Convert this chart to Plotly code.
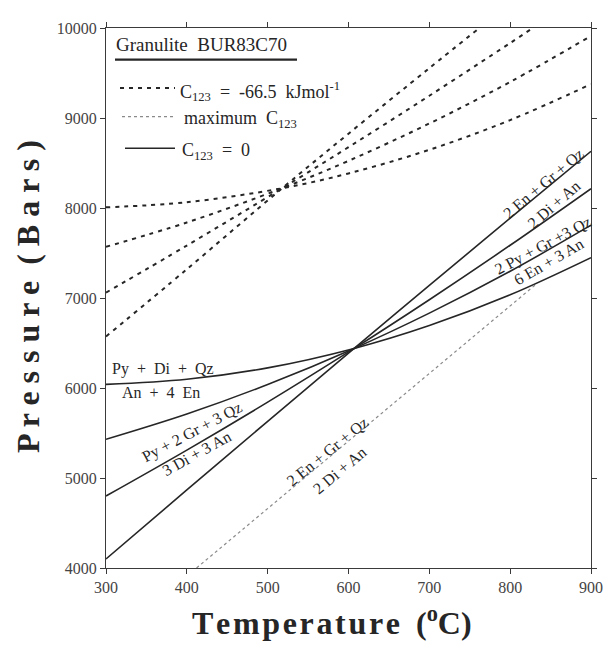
import plotly.graph_objects as go

# ---------------- data ----------------
# C123 = 0 reactions (solid), through the invariant point (~607 C, 6440 bar)
T_solid = [300, 400, 500, 607, 700, 800, 900]
P_rxn1 = [6040, 6097, 6224, 6440, 6694, 7035, 7448]   # Py + Di + Qz = An + 4 En
P_rxn2 = [4800, 5310, 5843, 6440, 6981, 7586, 8215]   # Py + 2 Gr + 3 Qz = 3 Di + 3 An
P_rxn3 = [4100, 4867, 5630, 6440, 7140, 7887, 8630]   # 2 En + Gr + Qz = 2 Di + An
P_rxn4 = [5430, 5711, 6039, 6440, 6832, 7297, 7809]   # 2 Py + Gr + 3 Qz = 6 En + 3 An

# C123 = -66.5 kJ/mol (dashed)
T_d1 = [300, 400, 518, 600, 700, 800, 900]
P_d1 = [8007, 8064, 8220, 8384, 8647, 8977, 9376]
T_d2 = [300, 400, 518, 600, 700, 800, 900]
P_d2 = [7569, 7839, 8220, 8524, 8939, 9401, 9912]
T_d3 = [300, 400, 518, 600, 700, 800, 828]
P_d3 = [7060, 7583, 8220, 8676, 9247, 9833, 10000]
T_d4 = [300, 400, 518, 600, 700, 762]
P_d4 = [6572, 7320, 8220, 8826, 9554, 10000]

# maximum C123 (dotted)
T_dot = [412, 500, 600, 700, 800, 833]
P_dot = [4000, 4660, 5410, 6160, 6910, 7160]

x_ticks = [300, 400, 500, 600, 700, 800, 900]
y_ticks = [4000, 5000, 6000, 7000, 8000, 9000, 10000]

# line labels: (text, T, P, angle)
line_labels = [
    ("Py  +  Di  +  Qz", 370, 6210, 0),
    ("An  +  4  En", 368, 5947, 0),
    ("Py + 2 Gr + 3 Qz", 407, 5509, -28),
    ("3 Di + 3 An", 412, 5268, -29),
    ("2 En + Gr + Qz", 841, 8269, -40),
    ("2 Di + An", 854, 8039, -41),
    ("2 Py + Gr +3 Qz", 840, 7580, -28),
    ("6 En + 3 An", 848, 7404, -30),
    ("2 En + Gr + Qz", 574, 5290, -39),
    ("2 Di + An", 589, 5082, -40),
]

legend_title = "Granulite  BUR83C70"
legend_texts = ["C<sub>123</sub>  =  -66.5  kJmol<sup>-1</sup>",
                "maximum  C<sub>123</sub>",
                "C<sub>123</sub>  =  0"]

FONT = "Liberation Serif, Times New Roman, serif"
INK = "#262626"

# ---------------- figure ----------------
fig = go.Figure()

for T, P in [(T_solid, P_rxn1), (T_solid, P_rxn2), (T_solid, P_rxn3), (T_solid, P_rxn4)]:
    fig.add_trace(go.Scatter(x=T, y=P, mode="lines", line=dict(color=INK, width=1.6, shape="spline"),
                             showlegend=False, hoverinfo="skip"))

for T, P in [(T_d1, P_d1), (T_d2, P_d2), (T_d3, P_d3), (T_d4, P_d4)]:
    fig.add_trace(go.Scatter(x=T, y=P, mode="lines",
                             line=dict(color=INK, width=2, dash="4px,5px", shape="spline"),
                             showlegend=False, hoverinfo="skip"))

fig.add_trace(go.Scatter(x=T_dot, y=P_dot, mode="lines",
                         line=dict(color="#8a8a8a", width=1.2, dash="dot"),
                         showlegend=False, hoverinfo="skip"))

for text, T, P, ang in line_labels:
    fig.add_annotation(x=T, y=P, xref="x", yref="y", text=text, showarrow=False,
                       textangle=ang, font=dict(family=FONT, size=16, color=INK))

# plot area in page pixels (page has an 8px body offset)
OFF = 8
L, TOP, W, H = 106, 20, 485, 548
def px(x):
    return (x - L) / W
def py(y):
    return (TOP + H - y) / H

# legend block
fig.add_annotation(x=px(114), y=py(37), xref="paper", yref="paper", text=legend_title,
                   showarrow=False, xanchor="left", yanchor="middle",
                   font=dict(family=FONT, size=19, color=INK))
fig.add_shape(type="line", xref="paper", yref="paper", x0=px(115), x1=px(297), y0=py(52), y1=py(52),
              line=dict(color=INK, width=2.2))
rows_y = [81, 110, 142]
styles = [dict(color=INK, width=2, dash="4px,5px"),
          dict(color="#8a8a8a", width=1.2, dash="dot"),
          dict(color=INK, width=1.6)]
starts = [120, 122, 125]
text_x = [178, 182, 180]
for yy, st, x0, tx, txt in zip(rows_y, styles, starts, text_x, legend_texts):
    fig.add_shape(type="line", xref="paper", yref="paper", x0=px(x0), x1=px(175),
                  y0=py(yy), y1=py(yy), line=st)
    fig.add_annotation(x=px(tx), y=py(yy + 3), xref="paper", yref="paper", text=txt,
                       showarrow=False, xanchor="left", yanchor="middle",
                       font=dict(family=FONT, size=18, color=INK))

# axis titles
hs = "\u200a"
x_title = "<b>" + hs.join("Temperature") + "  (<sup>o</sup>C)</b>"
y_title = "<b>" + " ".join("Pressure") + "  ( " + " ".join("Bars") + " )</b>"
fig.add_annotation(x=px(332), y=py(622), xref="paper", yref="paper", text=x_title,
                   showarrow=False, xanchor="center", yanchor="middle",
                   font=dict(family=FONT, size=32, color=INK))
fig.add_annotation(x=px(28), y=py(293), xref="paper", yref="paper", text=y_title,
                   showarrow=False, xanchor="center", yanchor="middle", textangle=-90,
                   font=dict(family=FONT, size=32, color=INK))

axis_common = dict(showgrid=False, zeroline=False, showline=True, linecolor="#3a3a3a", linewidth=1.2,
                   ticks="outside", ticklen=5, tickcolor="#3a3a3a", tickwidth=1, mirror="ticks",
                   tickfont=dict(family=FONT, size=16, color="#444444"))
fig.update_xaxes(range=[300, 900], tickvals=x_ticks, ticktext=[str(v) for v in x_ticks], **axis_common)
fig.update_yaxes(range=[4000, 10000], tickvals=y_ticks, ticktext=[str(v) for v in y_ticks], **axis_common)

fig.update_layout(width=612, height=650,
                  margin=dict(l=L - OFF, r=612 - (L - OFF) - W, t=TOP - OFF, b=650 - (TOP - OFF) - H),
                  plot_bgcolor="white", paper_bgcolor="white", showlegend=False)

fig.write_html("out.html")
